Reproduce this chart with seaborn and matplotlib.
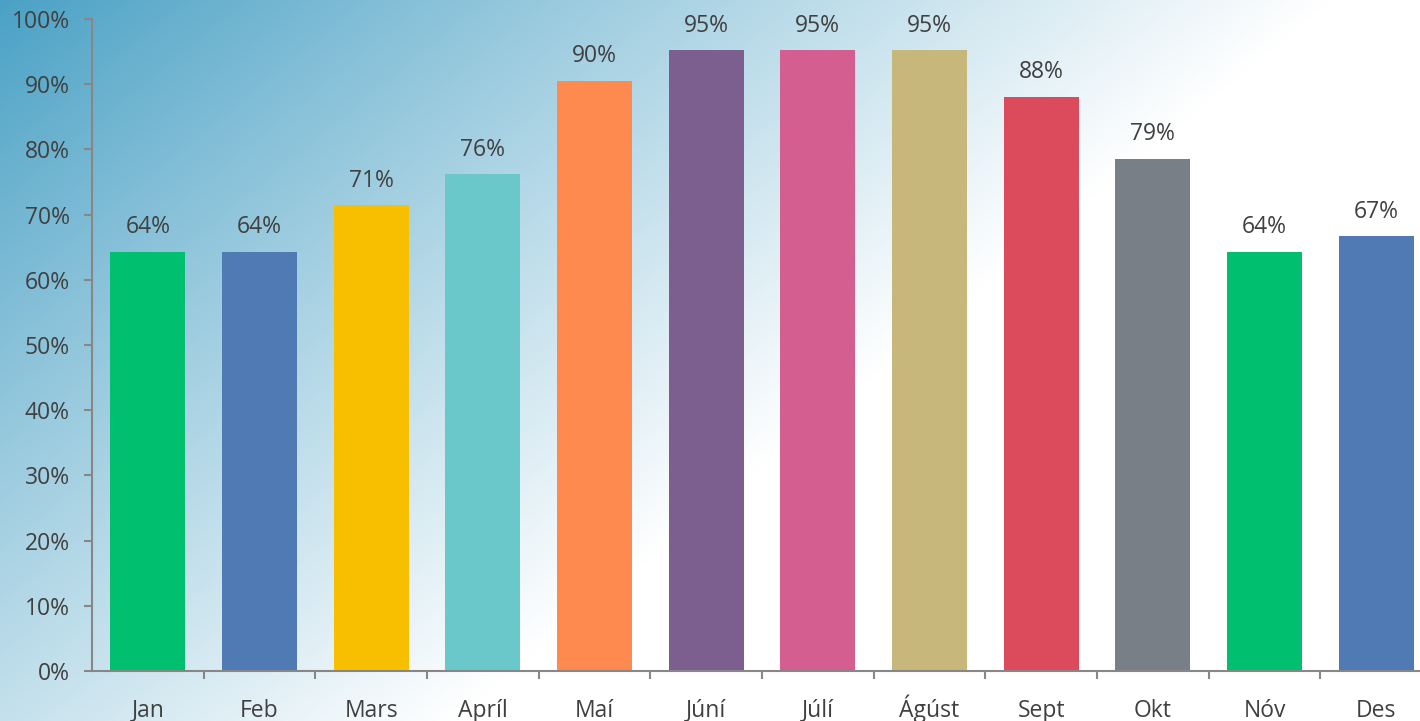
import matplotlib
matplotlib.use("Agg")
import matplotlib.pyplot as plt
import seaborn as sns
import numpy as np
import pandas as pd
from matplotlib.ticker import FixedLocator, PercentFormatter

# Donnees
months = ["Jan", "Feb", "Mars", "Apríl", "Maí", "Júní", "Júlí", "Ágúst", "Sept", "Okt", "Nóv", "Des"]
values = [64.3, 64.3, 71.4, 76.2, 90.5, 95.2, 95.2, 95.2, 88.1, 78.6, 64.3, 66.7]
colors = ["#00BF6F", "#4F7AB3", "#F8BF00", "#6AC8CB", "#FF8A50", "#7D5F8F",
          "#D45E90", "#C8B77A", "#DB4B5C", "#787F87", "#00BF6F", "#4F7AB3"]

df = pd.DataFrame({"month": months, "value": values})

sns.set_style("white")
plt.rcParams["font.family"] = ["Open Sans", "DejaVu Sans"]
text_col = "#404040"
axis_col = "#878787"
fs = 16.5

W, H = 1420, 721
fig = plt.figure(figsize=(W / 100, H / 100), dpi=100)

# fond en degrade bleu -> blanc (diagonale)
bg = fig.add_axes([0, 0, 1, 1], zorder=-1)
yy, xx = np.mgrid[0:H, 0:W]
t = (721 * xx + 880 * yy) / (721 * 1330.0)
t = np.clip(t, 0, 1) ** 0.95
c0 = np.array([0x4A, 0xA1, 0xC5]) / 255.0
c1 = np.array([1.0, 1.0, 1.0])
img = c0[None, None, :] * (1 - t[..., None]) + c1[None, None, :] * t[..., None]
bg.imshow(img, aspect="auto", extent=[0, 1, 0, 1], origin="upper")
bg.axis("off")

# axes principal (depasse a droite comme l'original)
left, right = 92 / W, 1432 / W
bottom, top = 50 / H, 702 / H
ax = fig.add_axes([left, bottom, right - left, top - bottom])
ax.patch.set_alpha(0)

sns.barplot(data=df, x="month", y="value", hue="month", palette=colors,
            legend=False, width=0.67, saturation=1, linewidth=0, ax=ax)

ax.set_ylim(0, 100)
ax.set_xlim(-0.5, len(months) - 0.5)
ax.set_xlabel("")
ax.set_ylabel("")

for cont in ax.containers:
    ax.bar_label(cont, labels=[f"{v:.0f}%" for v in cont.datavalues],
                 padding=9, fontsize=fs, color=text_col)

ax.yaxis.set_major_locator(FixedLocator(np.arange(0, 101, 10)))
ax.yaxis.set_major_formatter(PercentFormatter(100, decimals=0))
ax.xaxis.set_minor_locator(FixedLocator(np.arange(0.5, len(months) - 0.5, 1)))

ax.tick_params(axis="y", which="major", length=6, width=1.5, color=axis_col,
               labelsize=fs, labelcolor=text_col, pad=10, left=True)
ax.tick_params(axis="x", which="major", length=0, labelsize=fs,
               labelcolor=text_col, pad=33)
ax.tick_params(axis="x", which="minor", length=6, width=1.5, color=axis_col,
               bottom=True)
for lab in ax.get_xticklabels():
    lab.set_verticalalignment("baseline")

for s in ["top", "right"]:
    ax.spines[s].set_visible(False)
for s in ["left", "bottom"]:
    ax.spines[s].set_color(axis_col)
    ax.spines[s].set_linewidth(1.5)

fig.savefig("out.png", dpi=100)
